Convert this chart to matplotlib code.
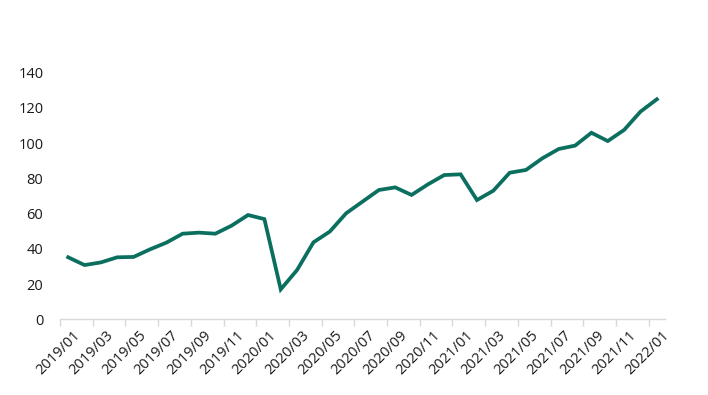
import numpy as np
import matplotlib
matplotlib.use("Agg")
from matplotlib import pyplot as plt

plt.rcParams['font.family'] = ['Open Sans', 'DejaVu Sans']

# monthly series, 2019/01 .. 2022/01
months = ["%d/%02d" % (2019 + i // 12, i % 12 + 1) for i in range(37)]
values = [35.2, 30.8, 32.3, 35.2, 35.4, 39.7, 43.5, 48.6, 49.2, 48.6,
          53.2, 59.2, 56.9, 17.0, 28.0, 43.7, 49.8, 60.2, 66.8, 73.4,
          74.9, 70.6, 76.6, 81.9, 82.3, 67.7, 73.0, 83.2, 84.8, 91.4,
          96.7, 98.6, 105.9, 101.2, 107.5, 117.9, 124.9]
yticks = [0, 20, 40, 60, 80, 100, 120, 140]

line_color = '#0b6f60'

fig = plt.figure(figsize=(7.08, 3.95), dpi=100)
ax = fig.add_axes([60/708, (395-319.3)/395, (665-60)/708, (319.3-72.7)/395])

x = np.arange(len(values)) + 0.5
ax.plot(x, values, color=line_color, lw=2.7, solid_joinstyle='miter')

ax.set_xlim(0, len(values))
ax.set_ylim(0, 140)
ax.set_yticks(yticks)

# tick marks at category boundaries, labels at every other category
ax.set_xticks(np.arange(0, len(values) + 1, 2))
ax.set_xticklabels([])
ax.set_xticks(x[::2] + 0.3, minor=True)
ax.set_xticklabels(months[::2], minor=True, rotation=45, ha='right',
                   rotation_mode='anchor', fontsize=10.5, color='#1a1a1a')
ax.tick_params(axis='x', which='major', length=5, color='#d9d9d9', width=1)
ax.tick_params(axis='x', which='minor', length=0, pad=6)
ax.tick_params(axis='y', length=0, pad=12, labelsize=10.5, labelcolor='#1a1a1a')

for s in ['top', 'right', 'left']:
    ax.spines[s].set_visible(False)
ax.spines['bottom'].set_color('#d9d9d9')
ax.spines['bottom'].set_linewidth(1)

fig.savefig('out.png', dpi=100)
